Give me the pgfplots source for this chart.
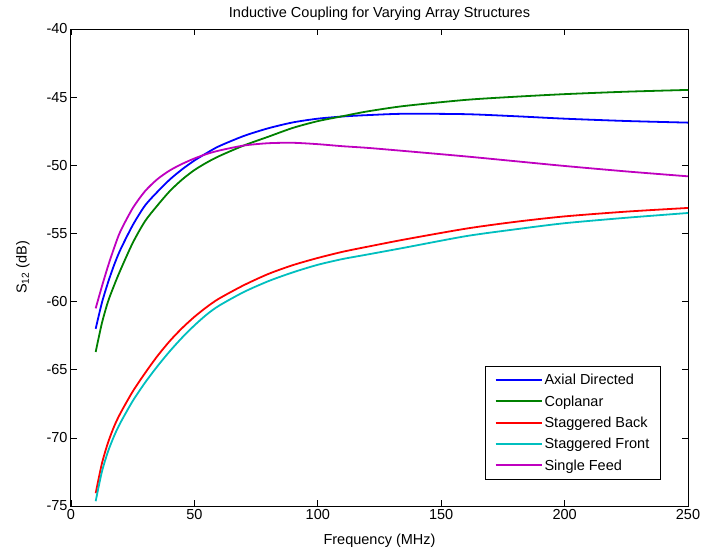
\documentclass[border=0pt]{standalone}
\usepackage{pgfplots}
\pgfplotsset{compat=1.18}
\usepackage{fontspec}
\setmainfont{Liberation Sans}
\definecolor{mblue}{rgb}{0,0,1}
\definecolor{mgreen}{rgb}{0,0.5,0}
\definecolor{mred}{rgb}{1,0,0}
\definecolor{mcyan}{rgb}{0,0.75,0.75}
\definecolor{mmag}{rgb}{0.75,0,0.75}
\begin{document}%
\begin{tikzpicture}[font=\fontsize{14.5}{17}\selectfont]
\path[use as bounding box] (-71pt,-44pt) rectangle (631pt,506pt);
\begin{axis}[
  at={(0pt,0pt)}, anchor=south west,
  scale only axis,
  width=617pt, height=477pt,
  xmin=0, xmax=250, ymin=-75, ymax=-40,
  xtick={0,50,...,250}, ytick={-75,-70,...,-40},
  tick align=inside, major tick length=6pt,
  tick style={black, line width=0.7pt},
  axis line style={line width=1pt},
  /pgf/number format/assume math mode=true,
  ticklabel style={font=\fontsize{14.5}{17}\selectfont},
  label style={font=\fontsize{14.5}{17}\selectfont},
  title style={font=\fontsize{14.5}{17}\selectfont, yshift=-1pt},
  title={Inductive Coupling for Varying Array Structures},
  xlabel={Frequency (MHz)},
  ylabel={S\textsubscript{12} (dB)},
  xlabel style={yshift=-7pt},
  ylabel style={yshift=10pt},
  legend style={at={(0.956,0.0545)}, anchor=south east, font=\fontsize{14.5}{17}\selectfont,
    draw=black, line width=1pt, inner xsep=9pt, inner ysep=6pt, row sep=5.3pt},
  legend image code/.code={\draw[#1, line width=2pt] (0pt,0.2pt) -- (46pt,0.2pt);},
  legend cell align=left,
  every axis plot/.append style={line width=1.8pt, smooth, tension=0.45},
]
\addplot[mblue] coordinates {(10,-62.0)(12.5,-60.1)(15,-58.6)(17.5,-57.3)(20,-56.2)(25,-54.4)(30,-52.95)(35,-51.95)(40,-51.05)(45,-50.3)(50,-49.65)(55,-49.1)(60,-48.6)(70,-47.85)(80,-47.28)(90,-46.85)(100,-46.58)(110,-46.42)(120,-46.32)(135,-46.22)(160,-46.25)(180,-46.4)(200,-46.58)(225,-46.75)(250,-46.87)};
\addlegendentry{Axial Directed}
\addplot[mgreen] coordinates {(10,-63.7)(12.5,-61.6)(15,-60.0)(17.5,-58.8)(20,-57.7)(25,-55.7)(30,-54.1)(35,-52.95)(40,-51.9)(45,-51.05)(50,-50.35)(55,-49.8)(60,-49.33)(70,-48.55)(80,-47.9)(90,-47.25)(100,-46.76)(110,-46.4)(120,-46.05)(135,-45.65)(160,-45.2)(180,-44.97)(200,-44.78)(225,-44.6)(250,-44.47)};
\addlegendentry{Coplanar}
\addplot[mred] coordinates {(10,-74.06)(12.5,-71.9)(15,-70.35)(17.5,-69.15)(20,-68.2)(25,-66.6)(30,-65.25)(35,-64.0)(40,-62.9)(45,-61.95)(50,-61.12)(55,-60.4)(60,-59.78)(70,-58.8)(80,-57.97)(90,-57.32)(100,-56.8)(110,-56.35)(120,-55.98)(135,-55.45)(160,-54.65)(180,-54.15)(200,-53.75)(225,-53.4)(250,-53.13)};
\addlegendentry{Staggered Back}
\addplot[mcyan] coordinates {(10,-74.65)(12.5,-72.5)(15,-71.0)(17.5,-69.85)(20,-68.9)(25,-67.3)(30,-65.95)(35,-64.75)(40,-63.65)(45,-62.65)(50,-61.75)(55,-60.95)(60,-60.3)(70,-59.3)(80,-58.5)(90,-57.85)(100,-57.3)(110,-56.88)(120,-56.55)(135,-56.05)(160,-55.2)(180,-54.7)(200,-54.25)(225,-53.85)(250,-53.5)};
\addlegendentry{Staggered Front}
\addplot[mmag] coordinates {(10,-60.5)(12.5,-58.9)(15,-57.4)(17.5,-56.05)(20,-54.85)(25,-53.15)(30,-51.9)(35,-51.02)(40,-50.38)(45,-49.9)(50,-49.5)(55,-49.17)(60,-48.92)(70,-48.55)(80,-48.38)(90,-48.35)(100,-48.45)(110,-48.6)(120,-48.72)(135,-48.95)(160,-49.35)(180,-49.7)(200,-50.05)(225,-50.45)(250,-50.81)};
\addlegendentry{Single Feed}
\end{axis}
\end{tikzpicture}%
\end{document}
